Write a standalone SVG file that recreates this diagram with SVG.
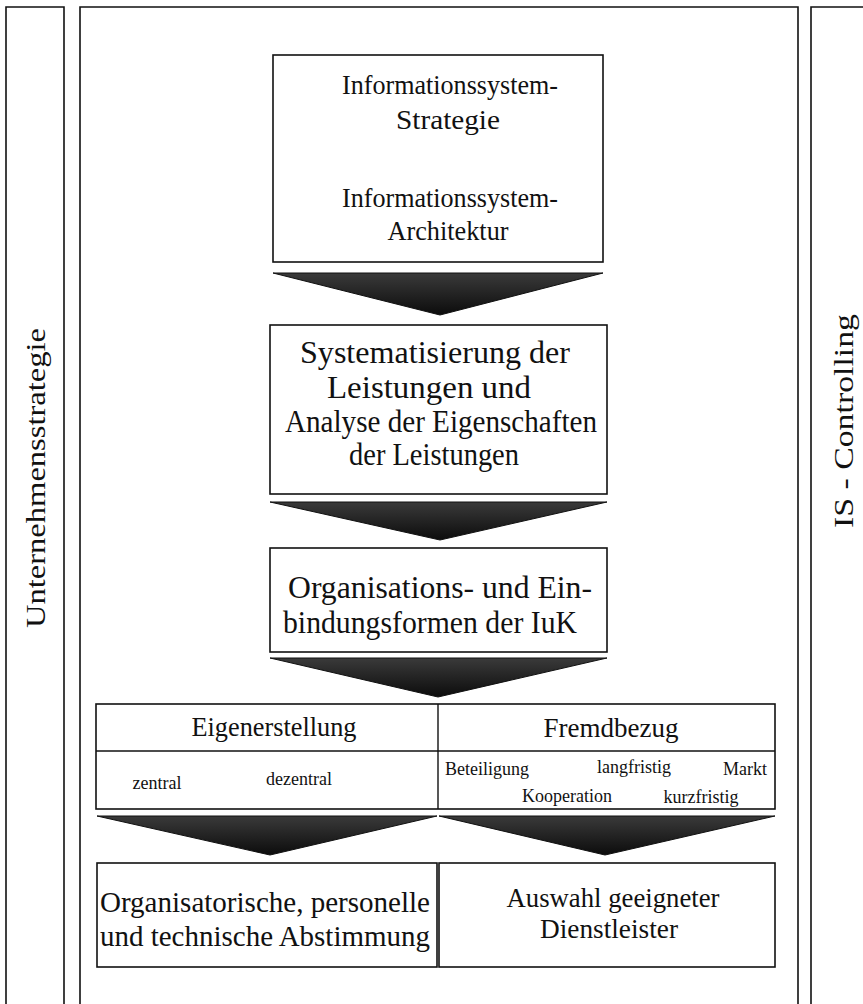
<svg xmlns="http://www.w3.org/2000/svg" width="863" height="1004" viewBox="0 0 863 1004">
<style>
.frame{fill:none;stroke:#111;stroke-width:1.6}
.box{fill:#fff;stroke:#111;stroke-width:1.6}
.ln{stroke:#111;stroke-width:1.4;fill:none}
.t{font-family:"Liberation Serif","Times New Roman",serif;fill:#111;text-anchor:middle}
.xl{font-size:31px}
.big{font-size:30px}
.mid{font-size:28px}
.sm{font-size:18px}
.side{font-size:28px}
.arrow{fill:url(#ag);stroke:#111;stroke-width:1}
</style>
<defs>
<linearGradient id="ag" x1="0" y1="0" x2="0" y2="1">
<stop offset="0" stop-color="#3a3a3a"/>
<stop offset="1" stop-color="#0c0c0c"/>
</linearGradient>
</defs>
<g id="side-left">
<path class="frame" d="M6 1004 V7 H64 V1004"/>
<text class="t side" transform="translate(45,478) rotate(-90)" textLength="300" lengthAdjust="spacingAndGlyphs">Unternehmensstrategie</text>
</g>
<g id="main-frame">
<path class="frame" d="M80 1004 V7 H798 V1004"/>
</g>
<g id="side-right">
<path class="frame" d="M811 1004 V7 H863"/>
<text class="t side" transform="translate(853,421) rotate(-90)" textLength="214" lengthAdjust="spacingAndGlyphs">IS - Controlling</text>
</g>
<g id="connectors">
<polygon class="arrow" points="273,273 603,273 440,315"/>
<polygon class="arrow" points="270,502 607,502 440,540"/>
<polygon class="arrow" points="270,658 607,658 438,697"/>
<polygon class="arrow" points="97,816 437,816 270,855"/>
<polygon class="arrow" points="439,816 775,816 605,855"/>
</g>
<g id="node-strategie">
<rect class="box" x="273" y="55" width="330" height="207"/>
<text class="t mid" x="450" y="94" textLength="216" lengthAdjust="spacingAndGlyphs">Informationssystem-</text>
<text class="t mid" x="448" y="129" textLength="104" lengthAdjust="spacingAndGlyphs">Strategie</text>
<text class="t mid" x="450" y="207" textLength="216" lengthAdjust="spacingAndGlyphs">Informationssystem-</text>
<text class="t mid" x="448" y="240" textLength="121" lengthAdjust="spacingAndGlyphs">Architektur</text>
</g>
<g id="node-systematisierung">
<rect class="box" x="270" y="325" width="337" height="169"/>
<text class="t xl" x="435" y="363" textLength="270" lengthAdjust="spacingAndGlyphs">Systematisierung der</text>
<text class="t xl" x="429" y="398" textLength="204" lengthAdjust="spacingAndGlyphs">Leistungen und</text>
<text class="t xl" x="441" y="432" textLength="312" lengthAdjust="spacingAndGlyphs">Analyse der Eigenschaften</text>
<text class="t xl" x="434" y="465" textLength="170" lengthAdjust="spacingAndGlyphs">der Leistungen</text>
</g>
<g id="node-organisation">
<rect class="box" x="270" y="548" width="337" height="104"/>
<text class="t xl" x="440" y="598" textLength="304" lengthAdjust="spacingAndGlyphs">Organisations- und Ein-</text>
<text class="t xl" x="430" y="633" textLength="294" lengthAdjust="spacingAndGlyphs">bindungsformen der IuK</text>
</g>
<g id="node-formen">
<rect class="box" x="96" y="704" width="679" height="105"/>
<line class="ln" x1="96" y1="751" x2="775" y2="751"/>
<line class="ln" x1="438" y1="704" x2="438" y2="809"/>
<text class="t mid" x="274" y="736" textLength="165" lengthAdjust="spacingAndGlyphs">Eigenerstellung</text>
<text class="t mid" x="611" y="737" textLength="135" lengthAdjust="spacingAndGlyphs">Fremdbezug</text>
<text class="t sm" x="157" y="789">zentral</text>
<text class="t sm" x="299" y="785">dezentral</text>
<text class="t sm" x="487" y="775">Beteiligung</text>
<text class="t sm" x="634" y="773">langfristig</text>
<text class="t sm" x="745" y="775">Markt</text>
<text class="t sm" x="567" y="802">Kooperation</text>
<text class="t sm" x="701" y="803">kurzfristig</text>
</g>
<g id="node-abstimmung">
<rect class="box" x="97" y="863" width="340" height="104"/>
<text class="t big" x="265" y="912" textLength="330" lengthAdjust="spacingAndGlyphs">Organisatorische, personelle</text>
<text class="t big" x="265" y="946" textLength="330" lengthAdjust="spacingAndGlyphs">und technische Abstimmung</text>
</g>
<g id="node-dienstleister">
<rect class="box" x="439" y="863" width="336" height="104"/>
<text class="t mid" x="613" y="907" textLength="213" lengthAdjust="spacingAndGlyphs">Auswahl geeigneter</text>
<text class="t mid" x="609" y="938" textLength="138" lengthAdjust="spacingAndGlyphs">Dienstleister</text>
</g>
</svg>
